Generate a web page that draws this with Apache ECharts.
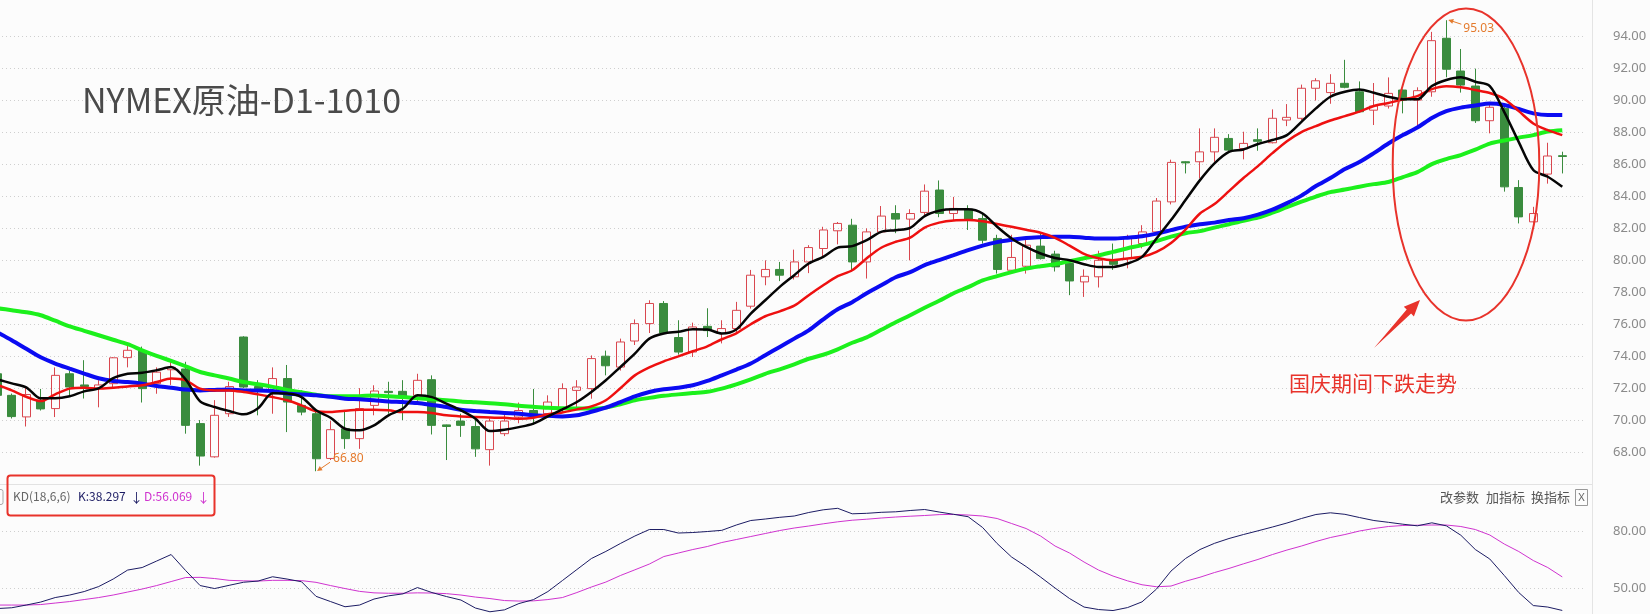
<!DOCTYPE html>
<html><head><meta charset="utf-8">
<script src="https://cdn.jsdelivr.net/npm/echarts@6/dist/echarts.min.js"></script>
<style>html,body{margin:0;padding:0;background:#fcfcfc;}#c{width:1650px;height:614px;}</style>
</head><body><div id="c"></div>
<script>
// [open, close, low, high]
const ohlc = [
[72.9,71.55,71.3,73.1],[71.55,70.22,70.1,71.66],[70.2,71.6,69.6,72.05],[71.2,70.7,70.6,71.95],[70.72,72.8,70.19,73.3],
[72.9,72.07,71.45,73.1],[72.2,72.1,71.35,73.75],[71.97,72.2,70.8,72.5],[72.28,73.9,72.05,73.95],[73.91,74.37,73.3,74.7],
[74.35,71.97,71.1,74.6],[72.28,73.0,71.65,73.3],[73.15,73.3,72.2,73.65],[73.2,69.67,69.15,73.65],[69.78,67.75,67.15,70.0],
[67.7,70.3,67.65,71.25],[70.4,72.1,70.2,72.4],[75.2,72.07,72.0,75.25],[72.1,71.9,70.3,72.5],[71.8,72.6,70.4,73.3],
[72.6,71.13,69.25,73.45],[70.92,70.5,70.3,71.86],[70.4,67.58,66.8,70.6],[67.6,69.4,67.5,69.95],[69.46,68.84,68.2,70.6],
[68.84,70.72,68.2,72.0],[70.92,71.82,70.3,72.18],[71.8,71.72,70.4,72.4],[71.8,71.4,70.0,72.5],[71.55,72.49,71.2,72.9],
[72.53,69.67,69.1,72.8],[69.7,69.6,67.5,69.72],[69.94,69.67,68.95,70.4],[69.6,68.2,67.7,70.1],[68.15,69.94,67.15,70.1],
[69.15,69.94,69.0,70.4],[70.19,70.6,69.8,71.1],[70.6,70.3,69.7,71.95],[70.4,71.13,70.2,71.55],[70.72,71.97,70.5,72.3],
[71.86,72.07,70.7,72.5],[71.97,73.85,71.34,74.05],[74.0,73.4,72.8,74.35],[73.32,74.89,73.1,75.1],[74.95,76.04,74.7,76.3],
[76.04,77.3,75.45,77.5],[77.3,75.45,75.4,77.45],[75.17,74.26,74.1,76.25],[74.26,75.83,73.95,76.1],[75.87,75.6,75.2,77.0],
[75.42,75.73,74.8,76.25],[75.73,76.87,75.5,77.4],[77.13,79.07,76.98,79.4],[78.97,79.43,78.44,80.0],[79.43,79.07,78.7,79.9],
[78.97,79.9,78.8,80.67],[79.9,80.8,79.2,80.95],[80.74,81.9,80.2,82.1],[81.85,82.31,81.0,82.4],[82.2,79.9,79.3,82.6],
[79.9,81.78,78.86,82.0],[81.78,82.77,81.7,83.4],[82.93,82.58,81.7,83.45],[82.58,82.93,80.0,83.2],[83.0,84.33,82.8,84.75],
[84.4,82.93,82.7,85.0],[82.93,83.25,82.5,83.97],[83.19,82.51,81.9,83.45],[82.62,81.26,81.05,82.95],[81.37,79.43,79.17,81.6],
[79.38,80.18,79.28,81.6],[79.63,80.95,79.17,81.3],[80.89,80.11,80.05,81.7],[80.39,79.59,79.3,80.6],[79.8,78.71,77.82,80.0],
[78.65,79.0,77.71,79.43],[78.97,80.0,78.3,80.6],[80.0,79.75,79.4,81.05],[80.11,81.47,79.5,81.6],[81.05,81.78,80.75,82.2],
[81.78,83.71,81.6,83.9],[83.66,86.13,83.5,86.3],[86.17,86.1,85.44,86.2],[86.17,86.79,85.13,88.26],[86.79,87.7,86.17,88.26],
[87.63,86.9,86.8,87.9],[87.0,87.32,86.32,88.05],[87.55,87.45,86.86,88.26],[87.36,88.89,87.32,89.45],[88.78,88.95,88.4,89.78],
[88.89,90.77,88.78,91.0],[90.77,91.24,90.0,91.4],[90.5,91.08,89.8,91.65],[91.08,90.83,90.77,92.55],[90.55,89.3,89.25,91.2],
[89.4,89.66,88.47,91.1],[89.66,90.45,89.5,91.45],[90.66,90.03,89.2,90.7],[90.03,90.62,88.36,90.83],[90.55,93.75,90.24,94.3],
[93.9,91.96,91.46,95.03],[91.85,90.97,90.5,93.23],[90.91,88.74,88.6,92.0],[88.74,89.58,87.95,89.83],[89.51,84.6,84.3,89.83],
[84.56,82.72,82.31,85.02],[82.41,82.93,82.35,83.35],[85.4,86.53,84.8,87.36],[86.55,86.5,85.44,86.8]
];
const ma5 = [72.55,72.30,72.05,71.36,71.36,71.49,71.80,71.99,72.62,72.90,
72.96,73.12,73.32,72.55,71.17,70.82,70.57,70.36,70.74,71.68,
71.66,71.44,70.61,70.15,69.46,69.36,69.67,70.30,70.72,71.55,
71.44,71.03,70.61,70.09,69.31,69.40,69.56,69.78,70.23,70.67,
71.13,71.76,72.49,73.32,74.16,75.10,75.42,75.53,75.69,75.67,
75.42,75.67,76.67,77.50,78.34,79.07,79.80,80.22,80.80,80.89,
81.26,81.78,81.89,82.03,82.77,83.10,83.19,83.19,82.93,82.10,
81.37,80.84,80.43,80.15,80.01,79.76,79.59,79.59,79.80,80.22,
81.37,82.52,83.77,85.02,86.07,86.79,86.94,87.28,87.53,87.84,
88.67,89.51,90.24,90.55,90.70,90.49,90.24,90.08,90.08,90.91,
91.29,91.46,91.18,90.91,89.28,87.40,85.65,85.23,84.60];
const ma10 = [72.21,71.86,71.46,71.19,71.61,71.97,72.03,71.97,72.03,72.11,
72.18,72.38,72.60,72.49,71.97,71.86,71.86,71.76,71.61,71.44,
71.24,70.92,70.55,70.50,70.58,70.64,70.65,70.61,70.50,70.50,
70.44,70.30,70.23,70.19,70.17,70.14,70.09,70.15,70.36,70.48,
70.67,70.86,71.24,71.99,72.80,73.30,73.68,73.99,74.31,74.62,
75.06,75.43,76.00,76.50,76.81,77.16,77.82,78.44,79.01,79.38,
80.13,80.79,81.16,81.42,82.05,82.36,82.50,82.52,82.44,82.28,
82.10,81.91,81.73,81.41,80.92,80.40,80.13,80.01,80.12,80.22,
80.53,81.09,81.93,82.93,83.52,84.33,85.15,85.90,86.71,87.46,
88.03,88.40,88.75,89.03,89.31,89.66,89.85,90.07,90.28,90.72,
90.90,90.83,90.66,90.47,90.10,89.34,88.57,88.15,87.84];
const ma20 = [75.50,75.00,74.46,73.93,73.54,73.22,72.91,72.62,72.45,72.38,
72.28,72.13,72.03,71.91,71.86,71.89,71.91,71.86,71.86,71.82,
71.66,71.61,71.55,71.46,71.34,71.30,71.24,71.17,71.13,71.07,
70.95,70.82,70.65,70.57,70.50,70.44,70.40,70.30,70.27,70.23,
70.30,70.52,70.78,71.13,71.49,71.76,71.93,72.03,72.18,72.45,
72.80,73.16,73.54,74.06,74.58,75.10,75.62,76.31,76.94,77.38,
77.94,78.44,78.94,79.26,79.70,80.01,80.32,80.64,80.92,81.14,
81.29,81.40,81.45,81.48,81.48,81.42,81.36,81.36,81.42,81.51,
81.67,81.89,82.11,82.26,82.36,82.52,82.64,82.86,83.17,83.58,
84.05,84.65,85.15,85.71,86.15,86.71,87.31,87.84,88.31,88.91,
89.34,89.56,89.69,89.81,89.72,89.47,89.20,89.09,89.09];
const ma30 = [77.00,76.88,76.75,76.56,76.22,75.87,75.59,75.31,75.03,74.75,
74.37,74.02,73.71,73.37,73.01,72.80,72.60,72.38,72.24,72.08,
71.89,71.74,71.58,71.49,71.49,71.50,71.54,71.49,71.44,71.37,
71.31,71.25,71.17,71.11,71.05,70.99,70.90,70.83,70.77,70.74,
70.72,70.72,70.78,70.99,71.24,71.39,71.52,71.61,71.69,71.77,
71.97,72.24,72.55,72.90,73.18,73.49,73.84,74.09,74.43,74.84,
75.18,75.65,76.12,76.56,77.03,77.47,77.94,78.32,78.74,79.01,
79.26,79.48,79.63,79.76,79.95,80.13,80.30,80.53,80.76,80.95,
81.20,81.48,81.70,81.83,82.05,82.26,82.48,82.67,82.98,83.33,
83.67,83.99,84.27,84.43,84.61,84.77,84.90,85.21,85.52,86.02,
86.34,86.59,86.93,87.31,87.50,87.68,87.84,88.06,88.15];
const kLine = [39.30,39.73,41.16,42.75,45.13,46.46,48.31,50.96,54.93,59.70,
61.03,64.47,67.92,59.44,51.49,49.90,51.60,53.24,53.87,56.15,
54.93,53.50,45.77,43.01,40.26,41.16,44.34,46.03,47.09,50.43,
47.78,45.66,43.81,39.57,37.60,38.61,41.95,44.02,48.31,54.14,
59.97,65.80,69.56,73.75,77.72,81.17,81.17,79.31,79.58,80.11,
80.74,83.55,85.94,86.73,87.63,88.32,90.18,91.61,92.40,89.49,
89.75,90.28,90.55,91.24,91.77,90.44,89.22,87.95,82.23,73.75,
66.59,61.56,55.99,50.17,44.60,40.10,38.78,38.25,39.83,42.85,
49.64,59.17,65.80,70.57,73.85,76.40,78.52,80.48,82.49,84.61,
87.00,89.12,90.02,89.22,87.53,85.94,84.99,83.98,83.13,84.72,
83.13,78.15,70.57,65.53,56.79,47.78,40.89,40.10,38.30];
const dLine = [41.16,41.16,41.16,41.42,42.22,43.01,44.07,45.13,46.46,48.05,
49.64,51.49,53.61,55.73,55.84,55.20,54.25,53.98,53.87,54.25,
54.25,54.09,53.19,51.49,49.90,48.41,47.62,47.41,47.41,47.62,
47.52,47.20,46.46,45.39,44.60,43.54,43.28,43.38,44.07,45.13,
47.78,50.70,53.34,56.79,59.81,62.88,66.86,68.71,70.57,72.16,
74.28,75.87,77.46,79.05,80.64,81.96,83.02,84.19,85.25,86.10,
86.63,87.26,87.79,88.22,88.59,89.06,89.17,88.85,88.32,87.00,
84.35,81.70,77.72,72.42,68.71,63.94,59.70,56.52,53.98,51.91,
50.85,51.22,53.77,55.89,58.38,60.55,62.99,65.32,67.92,70.30,
72.42,74.81,76.93,78.52,80.37,81.70,82.76,83.29,83.45,83.55,
83.55,82.76,81.17,78.25,73.48,69.51,64.74,61.03,56.07];
const priceTicks = [68,70,72,74,76,78,80,82,84,86,88,90,92,94];
const kdTicks = [50,80];
const kdLegend = {name:'KD(18,6,6)', k:'38.297', d:'56.069'};
const highMark = {index:100, value:95.03};
const lowMark = {index:22, value:66.80};

const categories = Array.from({length: ohlc.length + 1}, (_, i) => 'd' + i);
const chart = echarts.init(document.getElementById('c'), null, {renderer:'canvas'});
const dotted = {type:[1,3], color:'#cfcfcf', width:1};
const labelFont = {color:'#8a8a8a', fontSize:13, fontFamily:'Noto Sans'};

chart.setOption({
  backgroundColor:'#fcfcfc',
  animation:false,
  grid:[
    {left:-10, width:1594, top:6, height:478, outerBoundsMode:'none', containLabel:false},
    {left:-10, width:1594, top:484, height:161, outerBoundsMode:'none', containLabel:false}
  ],
  xAxis:[
    {type:'category', gridIndex:0, data:categories, show:false, boundaryGap:true},
    {type:'category', gridIndex:1, data:categories, show:false, boundaryGap:true}
  ],
  yAxis:[
    {type:'value', gridIndex:0, position:'right', min:66, max:95.92, interval:2,
     axisLine:{show:false}, axisTick:{show:false},
     axisLabel:Object.assign({margin:29, formatter:v => priceTicks.includes(Math.round(v*100)/100) ? v.toFixed(2) : ''}, labelFont),
     splitLine:{show:true, showMinLine:false, showMaxLine:false, lineStyle:dotted}},
    {type:'value', gridIndex:1, position:'right', min:20, max:105.28, interval:30,
     axisLine:{show:false}, axisTick:{show:false},
     axisLabel:Object.assign({margin:29, formatter:v => kdTicks.includes(Math.round(v*100)/100) ? v.toFixed(2) : ''}, labelFont),
     splitLine:{show:true, showMinLine:false, showMaxLine:false, lineStyle:dotted}}
  ],
  series:[
    {type:'candlestick', xAxisIndex:0, yAxisIndex:0, data:ohlc, barWidth:8.5, z:1,
     itemStyle:{color:'rgba(0,0,0,0)', color0:'#3a8c3e', borderColor:'#d9474f', borderColor0:'#3a8c3e', borderWidth:1}},
    {type:'line', name:'MA30', xAxisIndex:0, yAxisIndex:0, data:ma30, symbol:'none', smooth:0.3, z:3,
     lineStyle:{color:'#1cf01c', width:4}},
    {type:'line', name:'MA20', xAxisIndex:0, yAxisIndex:0, data:ma20, symbol:'none', smooth:0.3, z:4,
     lineStyle:{color:'#0b0bf2', width:4}},
    {type:'line', name:'MA10', xAxisIndex:0, yAxisIndex:0, data:ma10, symbol:'none', smooth:0.3, z:5,
     lineStyle:{color:'#ee1010', width:2.5}},
    {type:'line', name:'MA5', xAxisIndex:0, yAxisIndex:0, data:ma5, symbol:'none', smooth:0.3, z:6,
     lineStyle:{color:'#050505', width:2.5}},
    {type:'line', name:'D', xAxisIndex:1, yAxisIndex:1, data:dLine, symbol:'none', z:3,
     lineStyle:{color:'#cf33cf', width:1}},
    {type:'line', name:'K', xAxisIndex:1, yAxisIndex:1, data:kLine, symbol:'none', z:4,
     lineStyle:{color:'#1b1b63', width:1}}
  ]
});

const hp = chart.convertToPixel({gridIndex:0}, [highMark.index, highMark.value]);
const lp = chart.convertToPixel({gridIndex:0}, [lowMark.index, lowMark.value]);
const orange = '#e47a2c';
function txt(x, y, text, fill, size, family, align, extra) {
  return Object.assign({type:'text', z:100, x:x, y:y, style:{text:text, fill:fill, fontSize:size, fontFamily:family,
    textAlign:align||'left', textVerticalAlign:'middle', align:align||'left', verticalAlign:'middle'}}, extra||{});
}
function arrowHead(tx, ty, fx, fy, len, half, color) {
  const dx = tx-fx, dy = ty-fy, L = Math.hypot(dx,dy), ux = dx/L, uy = dy/L;
  const bx = tx-ux*len, by = ty-uy*len;
  return {type:'polygon', z:100, shape:{points:[[tx,ty],[bx-uy*half,by+ux*half],[bx+uy*half,by-ux*half]]}, style:{fill:color}};
}
const cjk = 'Noto Sans CJK SC';
const red = '#e8332b';
const graphics = [
  {type:'line', z:50, shape:{x1:1592.5,y1:0,x2:1592.5,y2:614}, style:{stroke:'#e4e4e4', lineWidth:1}},
  {type:'line', z:50, shape:{x1:0,y1:484.5,x2:1592,y2:484.5}, style:{stroke:'#e2e2e2', lineWidth:1}},
  txt(82, 100, 'NYMEX原油-D1-1010', '#4a4a4a', 34, cjk),
  txt(1289, 383, '国庆期间下跌走势', red, 21, cjk),
  {type:'ellipse', z:100, shape:{cx:1466, cy:164.5, rx:73.3, ry:156}, style:{fill:'none', stroke:red, lineWidth:2}},
  {type:'polygon', z:100, shape:{points:[[1374,348],[1411.1,313.6],[1413.9,316.4],[1420,300],[1403.8,306.7],[1406.7,309.5]]}, style:{fill:red}},
  {type:'line', z:100, shape:{x1:hp[0]+15, y1:hp[1]+4, x2:hp[0]+3, y2:hp[1]}, style:{stroke:orange, lineWidth:1}},
  arrowHead(hp[0]+2, hp[1]-0.3, hp[0]+15, hp[1]+4, 5, 2.5, orange),
  txt(hp[0]+17, hp[1]+8, highMark.value.toFixed(2), orange, 12, 'Noto Sans'),
  {type:'line', z:100, shape:{x1:lp[0]+14, y1:lp[1]-9, x2:lp[0]+3, y2:lp[1]-1.5}, style:{stroke:orange, lineWidth:1}},
  arrowHead(lp[0]+1, lp[1]-0.3, lp[0]+14, lp[1]-9, 5, 2.5, orange),
  txt(lp[0]+17, lp[1]-12.5, lowMark.value.toFixed(2), orange, 12, 'Noto Sans'),
  {type:'rect', z:100, shape:{x:-8, y:489.5, width:11, height:15, r:2}, style:{fill:'none', stroke:'#aaaaaa', lineWidth:1}},
  {type:'rect', z:100, shape:{x:7.5, y:475.5, width:207, height:40, r:3}, style:{fill:'none', stroke:red, lineWidth:2}},
  txt(13, 496, kdLegend.name, '#666666', 12, cjk),
  txt(78, 496, 'K:' + kdLegend.k, '#1b1b63', 12, cjk),
  txt(130, 497, '↓', '#1b1b63', 13, cjk),
  txt(144, 496, 'D:' + kdLegend.d, '#cf33cf', 12, cjk),
  txt(197, 497, '↓', '#cf33cf', 13, cjk),
  txt(1440, 497, '改参数', '#555555', 13, cjk),
  txt(1486, 497, '加指标', '#555555', 13, cjk),
  txt(1531, 497, '换指标', '#555555', 13, cjk),
  {type:'rect', z:100, shape:{x:1575.5, y:489.5, width:12, height:16}, style:{fill:'none', stroke:'#999999', lineWidth:1}},
  txt(1581.5, 497.5, 'X', '#666666', 11, 'Noto Sans', 'center')
];
chart.setOption({graphic:graphics});
</script>
</body></html>
